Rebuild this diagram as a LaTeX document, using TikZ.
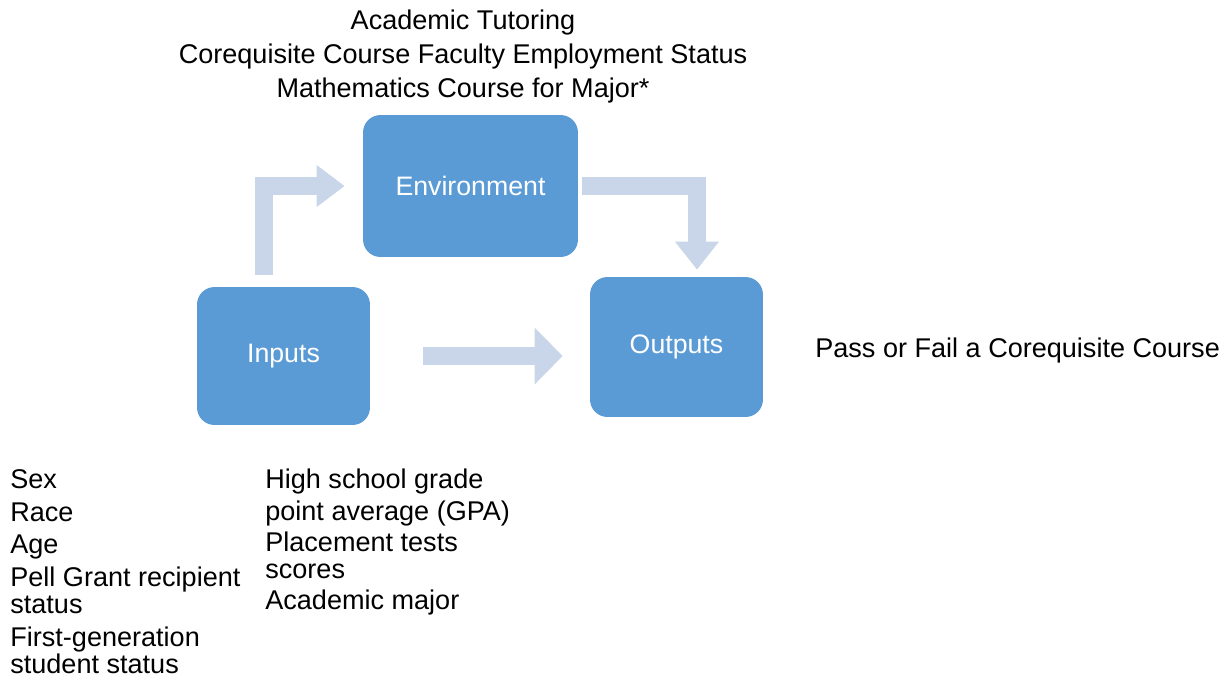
\documentclass[tikz,border=0pt]{standalone}
\usepackage{fontspec}
\setmainfont{Liberation Sans}
\usetikzlibrary{arrows.meta}
\definecolor{boxblue}{HTML}{5B9BD5}
\definecolor{arrowblue}{HTML}{C9D5E9}

\begin{document}
\begin{tikzpicture}[x=.02cm, y=-.02cm,
	box/.style={fill=boxblue, rounded corners=.35cm, text=white, font=\fontsize{15.2}{18}\selectfont},
	blk/.style={draw=arrowblue, line width=.36cm, -{Triangle[length=.56cm, width=#1]}},
	txt/.style={inner sep=0, font=\fontsize{15.4}{15.3}\selectfont}]
	\useasboundingbox (0,0) rectangle (1228,681);
	\node[box, minimum width=4.3cm,  minimum height=2.84cm] (env) at (470.5,186) {Environment};
	\node[box, minimum width=3.46cm, minimum height=2.76cm] (inp) at (283.5,356) {Inputs};
	\node[box, minimum width=3.46cm, minimum height=2.8cm]  (out) at (676.5,347) {Outputs};
	\coordinate (lft) at (264,0);
	\coordinate (rgt) at (697,0);
	%pfeile
	\draw[blk=.8cm,  shorten <=.24cm, shorten >=.36cm] (inp.north -| lft) |- (env.west);
	\draw[blk=1.1cm, shorten <=1.06cm, shorten >=.54cm] (inp.east) -- (inp.east -| out.west);
	\draw[blk=.84cm, shorten <=.08cm, shorten >=.14cm] (env.east) -| (out.north -| rgt);
	%texte
	\node[txt, anchor=north, align=center, font=\fontsize{15.4}{19.3}\selectfont] (envtxt) at (463,10)
		{Academic Tutoring\\Corequisite Course Faculty Employment Status\\Mathematics Course for Major*};
	\node[txt, anchor=base west] (outtxt) at (815,357) {Pass or Fail a Corequisite Course};
	\node[txt, anchor=north west, align=left] (inptxt) at (10,469)
		{Sex\\[3.4pt]Race\\[3.4pt]Age\\[3.4pt]Pell Grant recipient\\status\\[3.4pt]First-generation\\student status};
	\node[txt, anchor=north west, align=left] (inptxt2) at (265,469)
		{High school grade\\[2.8pt]point average (GPA)\\[2.4pt]Placement tests\\scores\\[2.4pt]Academic major};
\end{tikzpicture}
\end{document}
